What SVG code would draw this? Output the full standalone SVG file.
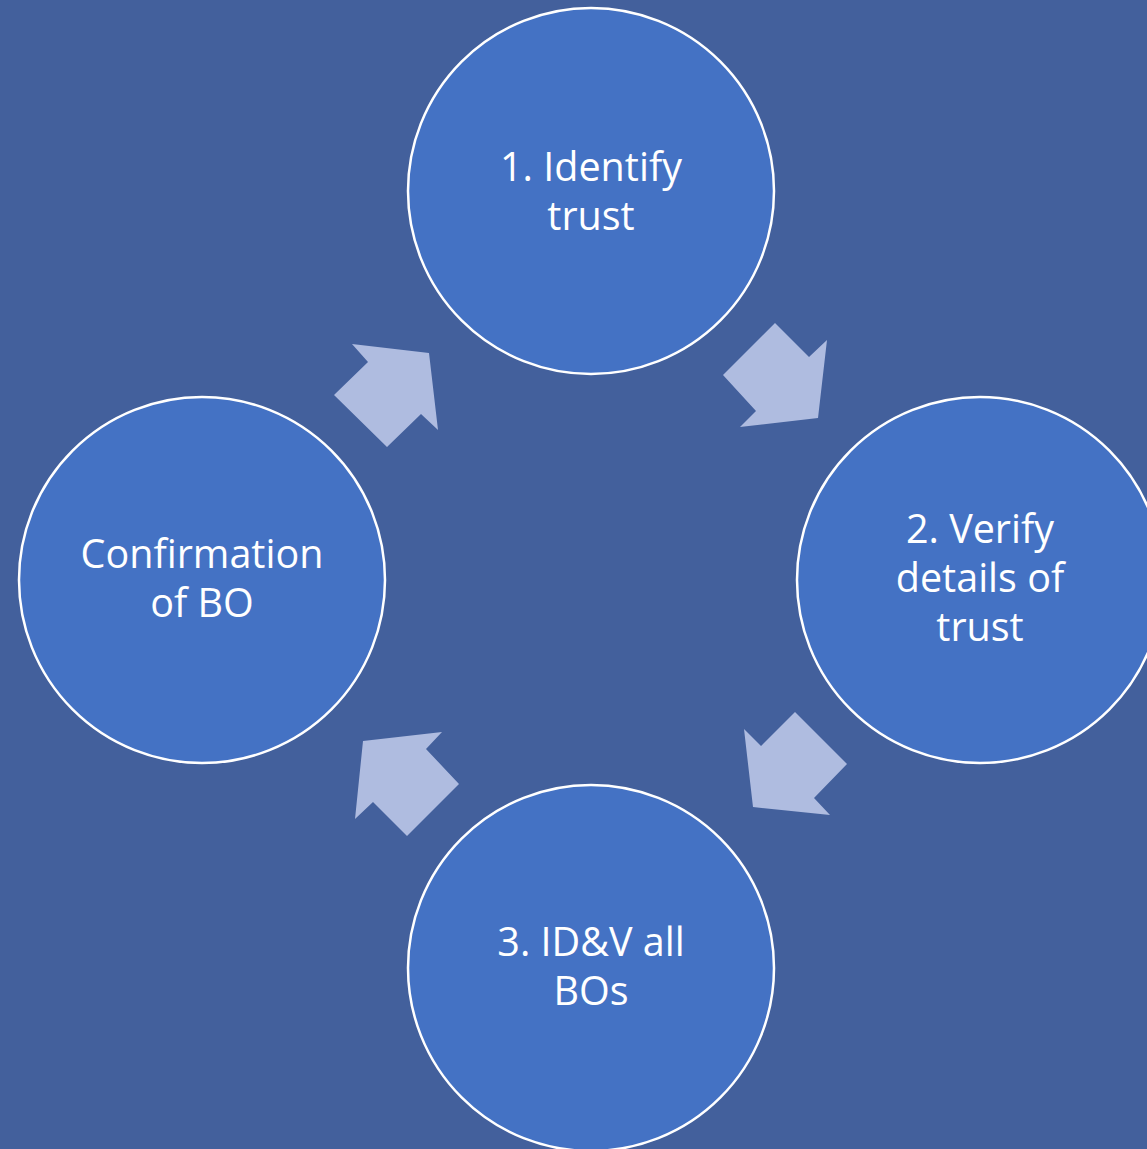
<svg xmlns="http://www.w3.org/2000/svg" width="1147" height="1149" viewBox="0 0 1147 1149">
<style>
.c{fill:#4472C4;stroke:#FFFFFF;stroke-width:2.5}
.a{fill:#AFBCE0}
.t{fill:#FFFFFF;font-family:"Open Sans","Liberation Sans",sans-serif;font-size:39.5px;text-anchor:middle}
</style>
<rect width="1147" height="1149" fill="#43609C"/>
<g id="connectors">
<polygon class="a" points="775,323 809,357 827,340 818,418 740,427 756,411 723,375"/>
<polygon class="a" points="795,712 847,764 814,798 830,815 753,807 744,729 761,746"/>
<polygon class="a" points="442,732 426,749 459,784 407,836 373,802 355,819 363,741"/>
<polygon class="a" points="352,344 429,353 438,430 421,414 387,447 334,395 368,362"/>
</g>
<g id="n1"><circle class="c" cx="591" cy="191" r="183"/><text class="t" x="591" y="181">1. Identify</text><text class="t" x="591" y="230">trust</text></g>
<g id="n2"><circle class="c" cx="980" cy="580" r="183"/><text class="t" x="980" y="543">2. Verify</text><text class="t" x="980" y="592">details of</text><text class="t" x="980" y="641">trust</text></g>
<g id="n3"><circle class="c" cx="591" cy="968" r="183"/><text class="t" x="591" y="956">3. ID&amp;V all</text><text class="t" x="591" y="1005">BOs</text></g>
<g id="n4"><circle class="c" cx="202" cy="580" r="183"/><text class="t" x="202" y="568">Confirmation</text><text class="t" x="202" y="617">of BO</text></g>
</svg>
